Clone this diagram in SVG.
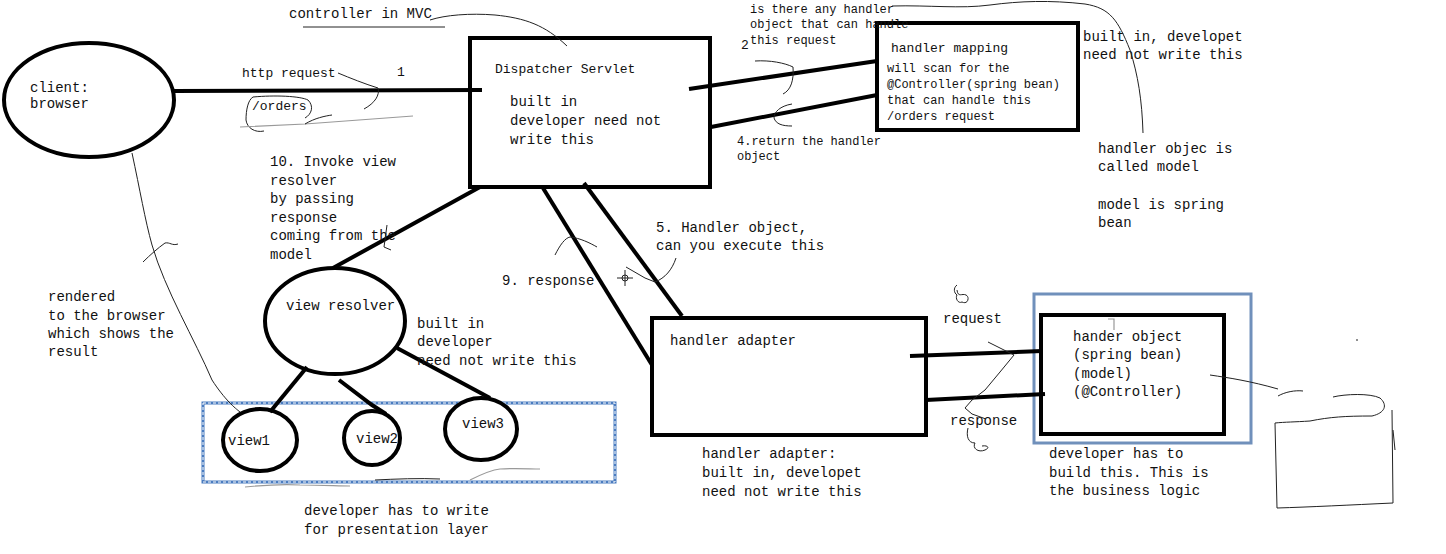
<svg xmlns="http://www.w3.org/2000/svg" width="1446" height="554" viewBox="0 0 1446 554">
<style>
text{font-family:"Liberation Mono","DejaVu Sans Mono",monospace;font-size:14px;fill:#111}
.s{font-size:12px}
.m{font-size:13px}
.n{fill:#fff;stroke:#000;stroke-width:4}
.c{stroke:#000;stroke-width:4;fill:none}
.t{stroke:#222;stroke-width:1;fill:none}
.g{stroke:#999;stroke-width:1.2;fill:none}
</style>
<rect width="1446" height="554" fill="#fff"/>
<g id="client">
<ellipse class="n" cx="89" cy="100" rx="85" ry="57"/>
<text x="30" y="92">client:</text>
<text x="30" y="108">browser</text>
</g>
<g id="dispatcher">
<rect class="n" x="470" y="38" width="240" height="149"/>
<text x="495" y="73" class="m">Dispatcher Servlet</text>
<text x="510" y="106">built in</text>
<text x="510" y="125">developer need not</text>
<text x="510" y="144">write this</text>
</g>
<g id="handler-mapping">
<rect class="n" x="877" y="23" width="201" height="107"/>
<text x="891" y="52" class="m">handler mapping</text>
<text x="887" y="72" class="s">will scan for the</text>
<text x="887" y="88" class="s">@Controller(spring bean)</text>
<text x="887" y="104" class="s">that can handle this</text>
<text x="887" y="120" class="s">/orders request</text>
</g>
<g id="view-resolver">
<ellipse class="n" cx="335" cy="321" rx="70" ry="53"/>
<text x="286" y="310">view resolver</text>
</g>
<g id="views-box">
<rect x="203" y="403" width="412" height="79" fill="none" stroke="#4a7cc0" stroke-width="3"/>
<rect x="203" y="403" width="412" height="79" fill="none" stroke="#fff" stroke-width="1" stroke-dasharray="3 2"/>
</g>
<g id="view1">
<ellipse class="n" cx="260" cy="440" rx="37" ry="31"/>
<text x="228" y="445">view1</text>
</g>
<g id="view2">
<ellipse class="n" cx="372" cy="438" rx="28" ry="27"/>
<text x="356" y="443">view2</text>
</g>
<g id="view3">
<ellipse class="n" cx="481" cy="429" rx="36" ry="31"/>
<text x="462" y="428">view3</text>
</g>
<g id="handler-adapter">
<rect class="n" x="652" y="318" width="274" height="117"/>
<text x="670" y="345">handler adapter</text>
</g>
<g id="handler-object">
<rect x="1034" y="294" width="217" height="149" fill="none" stroke="#7090bb" stroke-width="3"/>
<rect class="n" x="1041" y="315" width="183" height="119"/>
<text x="1073" y="341">hander object</text>
<text x="1073" y="359">(spring bean)</text>
<text x="1073" y="378">(model)</text>
<text x="1073" y="396">(@Controller)</text>
</g>
<g id="connectors">
<line class="c" x1="174" y1="91" x2="482" y2="90"/>
<line class="c" x1="689" y1="89" x2="877" y2="61"/>
<line class="c" x1="711" y1="127" x2="877" y2="95"/>
<line class="c" x1="480" y1="187" x2="333" y2="268"/>
<line class="c" x1="543" y1="188" x2="652" y2="365"/>
<line class="c" x1="584" y1="183" x2="682" y2="316"/>
<line class="c" x1="307" y1="367" x2="270" y2="412"/>
<path class="c" d="M339,380 L372,405 L386,414"/>
<line class="c" x1="397" y1="348" x2="490" y2="398"/>
<line class="c" x1="910" y1="356" x2="1042" y2="351"/>
<line class="c" x1="926" y1="400" x2="1045" y2="394"/>
</g>
<g id="labels">
<text x="289" y="18">controller in MVC</text>
<text x="242" y="77" class="m">http request</text>
<text x="397" y="76" class="m">1</text>
<text x="252" y="110" class="m">/orders</text>
<text x="750" y="13" class="s">is there any handler</text>
<text x="750" y="28" class="s">object that can handle</text>
<text x="750" y="44" class="s">this request</text>
<text x="741" y="49" class="m">2</text>
<text x="737" y="145" class="s">4.return the handler</text>
<text x="737" y="160" class="s">object</text>
<text x="1083" y="41">built in, developet</text>
<text x="1083" y="59">need not write this</text>
<text x="1098" y="153">handler objec is</text>
<text x="1098" y="171">called model</text>
<text x="1098" y="209">model is spring</text>
<text x="1098" y="227">bean</text>
<text x="270" y="166">10. Invoke view</text>
<text x="270" y="185">resolver</text>
<text x="270" y="203">by passing</text>
<text x="270" y="222">response</text>
<text x="270" y="240">coming from the</text>
<text x="270" y="259">model</text>
<text x="48" y="301">rendered</text>
<text x="48" y="320">to the browser</text>
<text x="48" y="338">which shows the</text>
<text x="48" y="356">result</text>
<text x="417" y="328">built in</text>
<text x="417" y="346">developer</text>
<text x="417" y="365">need not write this</text>
<text x="656" y="232">5. Handler object,</text>
<text x="656" y="250">can you execute this</text>
<text x="502" y="285">9. response</text>
<text x="943" y="323">request</text>
<text x="950" y="425">response</text>
<text x="702" y="458">handler adapter:</text>
<text x="702" y="477">built in, developet</text>
<text x="702" y="496">need not write this</text>
<text x="1049" y="458">developer has to</text>
<text x="1049" y="477">build this. This is</text>
<text x="1049" y="495">the business logic</text>
<text x="304" y="515">developer has to write</text>
<text x="304" y="534">for presentation layer</text>
</g>
<g id="scribbles">
<line class="t" x1="303" y1="27" x2="445" y2="27"/>
<path class="t" d="M430,20 C445,15 470,13 495,15 C525,18 545,25 567,46"/>
<path class="t" d="M338,73 C350,78 365,84 378,88 C380,95 375,103 364,109"/>
<path class="t" d="M253,97 C275,95 300,96 308,100 C314,106 312,114 305,118 M253,97 C248,100 246,110 246,120 C247,128 255,133 264,131"/>
<path class="g" d="M240,127 L305,124 L413,116"/>
<path class="t" d="M305,124 C315,118 325,116 332,115"/>
<path class="t" d="M755,61 C770,60 785,63 793,67 C794,80 791,90 783,94"/>
<path class="t" d="M792,104 C780,106 774,112 774,118 C776,124 782,126 792,126"/>
<path class="t" d="M892,6 C930,5 960,9 990,5 C1020,1 1050,0 1085,4 C1110,8 1118,20 1130,50 C1138,75 1142,100 1143,133"/>
<path class="t" d="M132,153 C140,190 145,220 152,245 C165,290 195,340 212,380 C225,400 235,408 240,412"/>
<path class="t" d="M143,262 C150,255 158,248 165,243 C170,242 172,246 178,244"/>
<path class="t" d="M387,225 L384,247 L391,250"/>
<path class="g" d="M245,487 C265,485 285,484 300,485 C320,485 340,486 350,486"/>
<path class="t" d="M375,480 C395,479 420,478 440,479"/>
<path class="g" d="M470,480 C480,475 490,470 500,469 C515,468 530,469 540,469"/>
<path class="t" d="M555,255 C560,245 565,238 570,237 C580,238 590,243 597,247"/>
<path class="t" d="M625,270 L625,286 M617,278 L633,278"/>
<circle class="t" cx="625" cy="278" r="3"/>
<path class="t" d="M626,267 L645,278 L655,282 C665,278 672,270 676,258"/>
<path class="t" d="M957,285 C953,288 954,293 957,295 C955,298 958,304 962,302 C968,305 970,297 966,295 C962,293 958,298 957,290"/>
<path class="t" d="M988,342 L1008,352 L1014,355 L1000,372 L985,390 L972,400 L965,408 L972,414 L986,419"/>
<path class="t" d="M968,428 C966,436 968,443 975,443 C972,448 978,453 985,450 C990,448 988,445 982,446"/>
<path class="g" d="M1108,319 L1114,319 L1114,330"/>
<path class="t" d="M1210,375 C1230,378 1250,381 1278,389"/>
<path class="t" d="M1278,396 C1285,392 1295,390 1303,391"/>
<path class="t" d="M1333,397 C1345,394 1370,393 1380,398 C1388,405 1385,413 1372,416 C1345,416 1330,417 1310,421 C1295,422 1285,422 1275,423 L1277,508 C1310,507 1350,505 1393,503 L1392,410"/>
<path class="t" d="M1393,430 L1395,450"/>
<circle cx="1357" cy="340" r="0.8" fill="#000"/>
</g>
</svg>
